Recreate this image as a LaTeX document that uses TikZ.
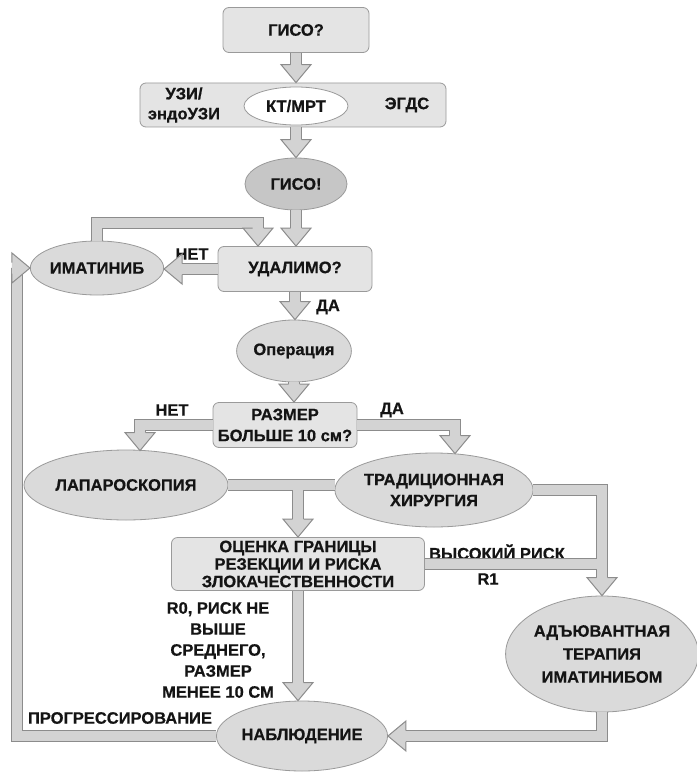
\documentclass[tikz,border=0pt]{standalone}
\usepackage{fontspec}
\setmainfont{Liberation Sans}[BoldFeatures={FakeBold=0.6}]
\usetikzlibrary{calc,shapes.geometric}
\definecolor{boxfill}{HTML}{E4E4E4}
\definecolor{ellfill}{HTML}{DADADA}
\definecolor{darkfill}{HTML}{C6C6C6}
\definecolor{edge}{HTML}{9A9A9A}
\definecolor{pipefill}{HTML}{D3D3D3}
\definecolor{pipeedge}{HTML}{8C8C8C}
\definecolor{txt}{HTML}{141414}
\newcommand{\allpipes}[1]{%
 \draw[#1] (q1.south) -- ($(q1.south |- exam.north)+(0,-18)$);
 \draw[#1] (gist.north |- exam.south) -- ($(gist.north)+(0,-18)$);
 \draw[#1] (gist.south) -- ($(gist.south |- res.north)+(0,-18)$);
 \draw[#1] (imat.north) |- (loopx) -- ($(loopx |- res.north)+(0,-18)$);
 \draw[#1] (res.west) -- ($(imat.east |- res.west)+(18,0)$);
 \draw[#1] (res.south) -- ($(res.south |- oper.north)+(0,-18)$);
 \draw[#1] (oper.south) -- ($(oper.south |- size.north)+(0,-18)$);
 \draw[#1] (size.west) -| ($(lapin)+(0,-18)$);
 \draw[#1] (size.east) -| ($(tradin)+(0,-18)$);
 \draw[#1] (lap.east) -- (trad.west |- lap.east);
 \draw[#1] (eval.north |- lap.east) -- ($(eval.north)+(0,-18)$);
 \draw[#1] (trad.east) -| ($(adj.north)+(0,-18)$);
 \draw[#1] (eval.east) -- (adj.north |- eval.east);
 \draw[#1] (eval.south) -- ($(eval.south |- obs.north)+(0,-18)$);
 \draw[#1] (adj.south) |- ($(obs.east)+(18,0)$);
 \draw[#1] (obs.west) -| (leftx |- imat.west) -- ($(imat.west)+(-18,0)$);
}
\begin{document}
\begin{tikzpicture}[x=1pt,y=-1pt,
  every node/.style={font=\fontsize{16.5}{21}\selectfont\bfseries, text=txt, align=center, inner sep=0pt},
  box/.style={draw=edge, fill=boxfill, rounded corners=6pt, line width=0.8pt},
  ell/.style={ellipse, draw=edge, fill=ellfill, line width=0.8pt},
  pipeout/.style={draw=pipeedge, line width=12pt, line join=miter},
  pipein/.style={draw=pipefill, line width=10pt, line join=miter},
  hd/.pic={\fill[pipefill] (0,0) -- (-15,-18) -- (15,-18) -- cycle;
           \draw[pipeedge, line width=1pt, line join=miter] (-5.5,-18) -- (-15,-18) -- (0,0) -- (15,-18) -- (5.5,-18);}
]
\useasboundingbox (0,0) rectangle (696,773);
\fill[white] (0,0) rectangle (696,773);

\node[box, minimum width=146pt, minimum height=45pt] (q1) at (296,30) {ГИСО?};
\node[box, minimum width=306pt, minimum height=44pt] (exam) at (293,105) {};
\node[ell, fill=white, minimum width=104pt, minimum height=38pt] (ct) at (296,106) {КТ/МРТ};
\node[font=\fontsize{16.5}{20}\selectfont\bfseries] (uzi) at (184,105) {УЗИ/\\эндоУЗИ};
\node (egds) at (407,105) {ЭГДС};
\node[ell, fill=darkfill, minimum width=102pt, minimum height=52pt] (gist) at (296,184) {ГИСО!};
\node[box, minimum width=154pt, minimum height=45pt] (res) at (295,269) {УДАЛИМО?};
\node[ell, minimum width=106pt, minimum height=54pt] (imat) at (97,268) {ИМАТИНИБ};
\node[ell, minimum width=102pt, minimum height=62pt] (oper) at (294,351) {Операция};
\node[box, minimum width=144pt, minimum height=45pt] (size) at (285,425) {РАЗМЕР\\БОЛЬШЕ 10 см?};
\node[ell, minimum width=204pt, minimum height=70pt] (lap) at (126,485) {ЛАПАРОСКОПИЯ};
\node[ell, minimum width=164pt, minimum height=74pt] (trad) at (434,490) {ТРАДИЦИОННАЯ\\ХИРУРГИЯ};
\node[box, minimum width=253pt, minimum height=53pt, font=\fontsize{16.5}{17.5}\selectfont\bfseries] (eval) at (298,564) {ОЦЕНКА ГРАНИЦЫ\\РЕЗЕКЦИИ И РИСКА\\ЗЛОКАЧЕСТВЕННОСТИ};
\node[ell, minimum width=178pt, minimum height=116pt, font=\fontsize{16.5}{23}\selectfont\bfseries] (adj) at (602,654) {АДЪЮВАНТНАЯ\\ТЕРАПИЯ\\ИМАТИНИБОМ};
\node[ell, minimum width=165pt, minimum height=70pt] (obs) at (302,736) {НАБЛЮДЕНИЕ};

\node (lno1) at (192,254) {НЕТ};
\node (lyes1) at (328,307) {ДА};
\node (lno2) at (172,410) {НЕТ};
\node (lyes2) at (392,410) {ДА};
\node (lhigh) at (497,552) {ВЫСОКИЙ РИСК};
\node (lr1) at (488,579) {R1};
\node (lr0) at (218,650) {R0, РИСК НЕ\\ВЫШЕ\\СРЕДНЕГО,\\РАЗМЕР\\МЕНЕЕ 10 СМ};
\node (lprog) at (120,718) {ПРОГРЕССИРОВАНИЕ};

\coordinate (loopx) at (258,223);
\coordinate (leftx) at (17,0);
\coordinate (lapin) at ($(lap.north)+(14,1)$);
\coordinate (tradin) at ($(trad.north)+(21,1)$);

\allpipes{pipeout}
\allpipes{pipein}

\pic at (q1.south |- exam.north) {hd};
\pic at (gist.north) {hd};
\pic at (gist.south |- res.north) {hd};
\pic at (loopx |- res.north) {hd};
\pic[rotate=-90] at (imat.east |- res.west) {hd};
\pic at (res.south |- oper.north) {hd};
\pic at (oper.south |- size.north) {hd};
\pic at (lapin) {hd};
\pic at (tradin) {hd};
\pic at (eval.north) {hd};
\pic at (adj.north) {hd};
\pic at (eval.south |- obs.north) {hd};
\pic[rotate=-90] at (obs.east) {hd};
\pic[rotate=90] at (imat.west) {hd};
\end{tikzpicture}
\end{document}
